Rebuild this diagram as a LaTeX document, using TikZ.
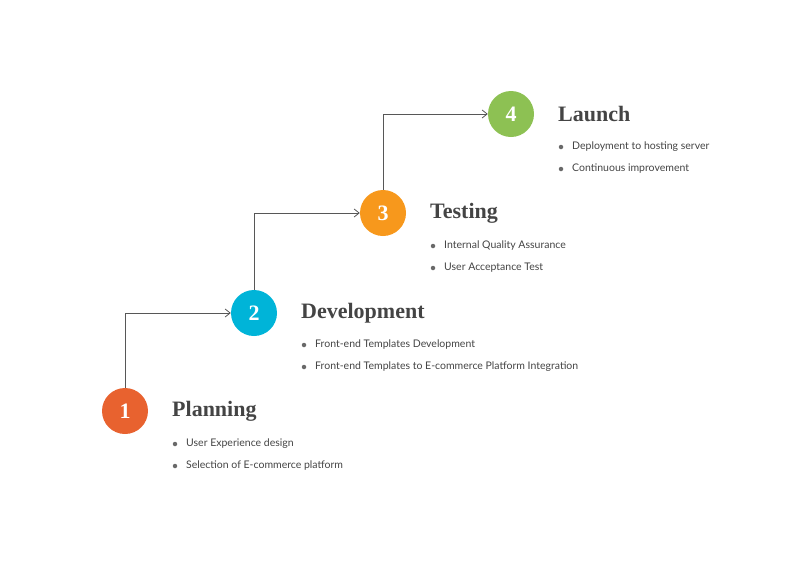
\documentclass[tikz,border=0pt]{standalone}
\usepackage{fontspec}
\setmainfont{Lato}
\newfontfamily\titlefont{Liberation Serif}
\definecolor{txt}{HTML}{444444}
\definecolor{cA}{HTML}{E8622F}
\definecolor{cB}{HTML}{00B4D8}
\definecolor{cC}{HTML}{F7981C}
\definecolor{cD}{HTML}{8DC153}
\begin{document}
\begin{tikzpicture}[x=1pt,y=-1pt,
  num/.style={circle,minimum size=46pt,inner sep=0pt,text=white,font=\titlefont\bfseries\fontsize{22}{22}\selectfont},
  ttl/.style={anchor=west,inner sep=0pt,text=txt,font=\titlefont\bfseries\fontsize{22}{22}\selectfont},
  itm/.style={anchor=west,inner sep=0pt,text=txt,font=\fontsize{10.5}{12}\selectfont},
  dot/.style={circle,fill=txt!80,inner sep=0pt,minimum size=4.5pt},
  link/.style={draw=txt!90,line width=0.8pt,-{Straight Barb[length=5pt,width=8pt]}}]
\useasboundingbox (0,0) rectangle (796,568);
\usetikzlibrary{arrows.meta}
\node[num,fill=cA] (n1) at (125,411) {1};
\node[num,fill=cB] (n2) at (254,313) {2};
\node[num,fill=cC] (n3) at (383,213) {3};
\node[num,fill=cD] (n4) at (511,114) {4};
\draw[link] (n1.north) |- (n2.west);
\draw[link] (n2.north) |- (n3.west);
\draw[link] (n3.north) |- (n4.west);
\node[ttl] (t1) at (172,411) {Planning};
\node[ttl] (t2) at (301,313) {Development};
\node[ttl] (t3) at (430,213) {Testing};
\node[ttl] (t4) at (558,114) {Launch};
\foreach \x/\y/\k/\a/\b in {
 175/444/1/User Experience design/Selection of E-commerce platform,
 304/345/2/Front-end Templates Development/Front-end Templates to E-commerce Platform Integration,
 433/246/3/Internal Quality Assurance/User Acceptance Test,
 561/147/4/Deployment to hosting server/Continuous improvement}{
  \node[dot] (da\k) at (\x,\y) {};
  \node[dot] (db\k) at (\x,\y+22) {};
  \node[itm] (ia\k) at (\x+11,\y) {\a};
  \node[itm] (ib\k) at (\x+11,\y+22) {\b};
}
\end{tikzpicture}
\end{document}
